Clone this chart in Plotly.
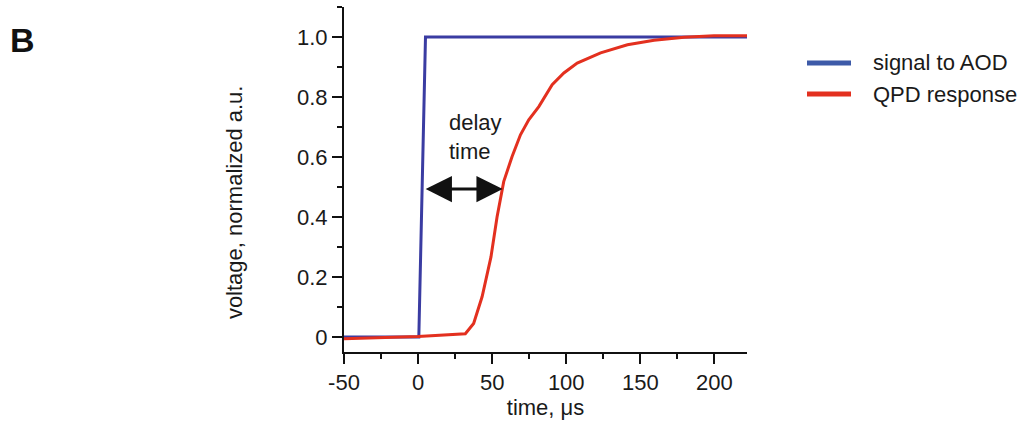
import plotly.graph_objects as go

# ---- data ----
aod_t = [-50, 0.5, 5, 222]
aod_v = [0.0, 0.0, 1.0, 1.0]

qpd_t = [-50, 0, 31.9, 37.5, 43.2, 49.2, 53.3, 57.8, 63.4, 69.1, 74.7, 81.5, 90.5,
         98.4, 107.4, 123.2, 141.3, 159.3, 179.6, 199.7, 222]
qpd_v = [-0.006, 0.002, 0.011, 0.045, 0.134, 0.267, 0.40, 0.518, 0.601, 0.674, 0.724,
         0.768, 0.841, 0.880, 0.913, 0.947, 0.974, 0.989, 0.999, 1.004, 1.004]

x_tickvals = [-50, 0, 50, 100, 150, 200]
x_ticktext = ["-50", "0", "50", "100", "150", "200"]
y_tickvals = [0, 0.2, 0.4, 0.6, 0.8, 1.0]
y_ticktext = ["0", "0.2", "0.4", "0.6", "0.8", "1.0"]

series_names = ["signal to AOD", "QPD response"]
series_colors = ["#3a3ca2", "#e3301f"]
legend_swatch_colors = ["#3d5aa8", "#e3301f"]

delay_start = 4.1
delay_end = 57.1
delay_level = 0.493

FONT = "Liberation Sans, Arial, sans-serif"
TXT = "#1a1a1a"

fig = go.Figure()
fig.add_trace(go.Scatter(x=aod_t, y=aod_v, mode="lines", name=series_names[0],
                         line=dict(color=series_colors[0], width=3), showlegend=False))
fig.add_trace(go.Scatter(x=qpd_t, y=qpd_v, mode="lines", name=series_names[1],
                         line=dict(color=series_colors[1], width=3), showlegend=False))

# delay-time double arrow
fig.add_annotation(x=delay_end, y=delay_level, ax=delay_start, ay=delay_level,
                   xref="x", yref="y", axref="x", ayref="y", text="",
                   showarrow=True, arrowhead=2, startarrowhead=2, arrowside="end+start",
                   arrowsize=1.75, startarrowsize=1.75, arrowwidth=3, arrowcolor="#111111",
                   standoff=0, startstandoff=0)
fig.add_annotation(x=19.5, y=0.667, xref="x", yref="y", text="delay<br>time",
                   showarrow=False, xanchor="left", yanchor="middle", align="left",
                   font=dict(family=FONT, size=22, color=TXT))

# y axis title (offset downward like the reference)
fig.add_annotation(x=-0.27, y=0.435, xref="paper", yref="paper",
                   text="voltage, normalized a.u.", textangle=-90, showarrow=False,
                   xanchor="center", yanchor="middle",
                   font=dict(family=FONT, size=22, color=TXT))
# panel letter
fig.add_annotation(x=-0.834, y=0.904, xref="paper", yref="paper", text="<b>B</b>",
                   showarrow=False, xanchor="left", yanchor="middle",
                   font=dict(family=FONT, size=34, color="#111111"))

# manual legend (paper coords; plot area spans px 344..747 horizontally, 7..352 vertically)
leg_y = [(352 - 63) / 345, (352 - 94) / 345]
for name, col, yy in zip(series_names, legend_swatch_colors, leg_y):
    fig.add_shape(type="line", xref="paper", yref="paper",
                  x0=(807 - 344) / 403, x1=(851 - 344) / 403, y0=yy, y1=yy,
                  line=dict(color=col, width=5))
    fig.add_annotation(x=(871 - 344) / 403, y=yy, xref="paper", yref="paper", text=name,
                       showarrow=False, xanchor="left", yanchor="middle",
                       font=dict(family=FONT, size=22, color=TXT))

fig.update_layout(
    width=1022, height=423,
    margin=dict(l=344, r=275, t=7, b=71),
    paper_bgcolor="white", plot_bgcolor="white",
    font=dict(family=FONT, size=22, color=TXT),
    showlegend=False,
)
fig.update_xaxes(range=[-50, 222], tickvals=x_tickvals, ticktext=x_ticktext,
                 showgrid=False, zeroline=False, showline=True, linecolor="#111111",
                 linewidth=2, ticks="outside", ticklen=10, tickwidth=2, tickcolor="#111111",
                 minor=dict(dtick=25, tick0=-50, ticks="outside", ticklen=5, tickwidth=2,
                            tickcolor="#111111", showgrid=False),
                 title=dict(text="time, μs", standoff=4, font=dict(family=FONT, size=22, color=TXT)),
                 tickfont=dict(family=FONT, size=22, color=TXT))
fig.update_yaxes(range=[-0.05, 1.1], tickvals=y_tickvals, ticktext=y_ticktext,
                 showgrid=False, zeroline=False, showline=True, linecolor="#111111",
                 linewidth=2, ticks="outside", ticklen=10, tickwidth=2, tickcolor="#111111",
                 minor=dict(dtick=0.1, tick0=0, ticks="outside", ticklen=5, tickwidth=2,
                            tickcolor="#111111", showgrid=False),
                 tickfont=dict(family=FONT, size=22, color=TXT))

fig.write_html("out.html")
